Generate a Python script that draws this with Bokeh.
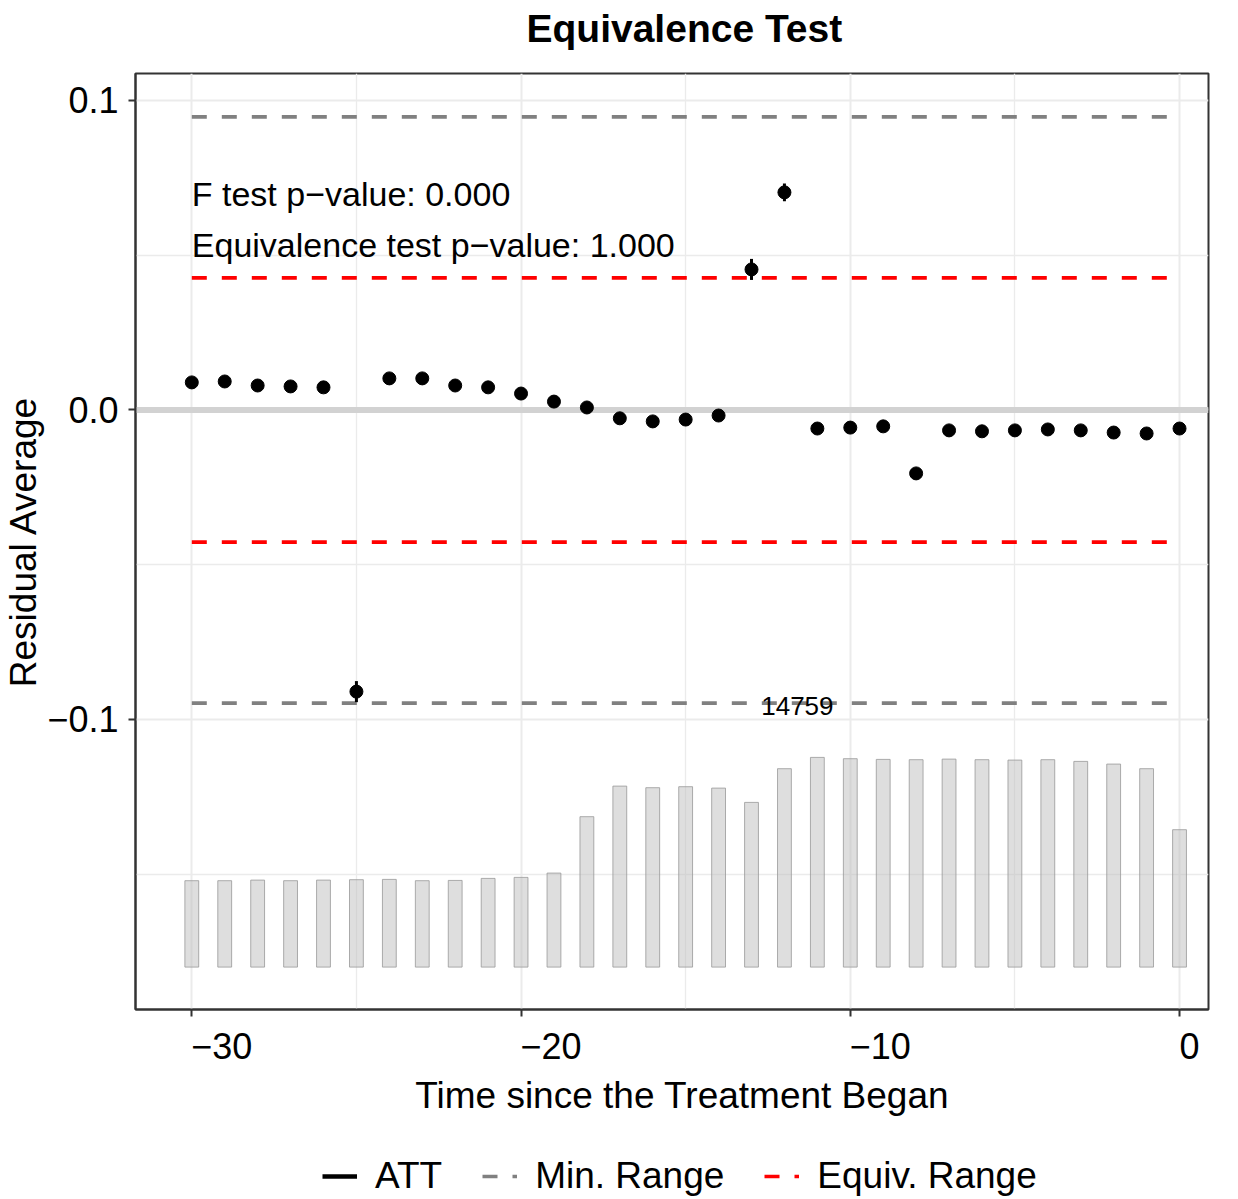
from bokeh.plotting import figure
from bokeh.layouts import column
from bokeh.models import Range1d, FixedTicker, Span, Legend, LegendItem, Label
from bokeh.embed import file_html
from bokeh.resources import INLINE

# ---------------- data ----------------
time = list(range(-30, 1))
att = [0.0089, 0.0092, 0.0079, 0.0076, 0.0073, -0.0910, 0.0102, 0.0102, 0.0079, 0.0073,
       0.0053, 0.0027, 0.0008, -0.0027, -0.0037, -0.0031, -0.0018, 0.0454, 0.0703, -0.0060,
       -0.0057, -0.0053, -0.0205, -0.0066, -0.0069, -0.0066, -0.0063, -0.0066, -0.0073, -0.0076,
       -0.0060]
ci_half = [0.0010, 0.0010, 0.0010, 0.0010, 0.0010, 0.0034, 0.0010, 0.0010, 0.0010, 0.0010,
           0.0010, 0.0010, 0.0010, 0.0010, 0.0010, 0.0010, 0.0010, 0.0034, 0.0029, 0.0010,
           0.0010, 0.0010, 0.0015, 0.0010, 0.0010, 0.0010, 0.0010, 0.0010, 0.0010, 0.0010,
           0.0010]
counts = [6081, 6081, 6123, 6081, 6123, 6151, 6172, 6081, 6100, 6243,
          6314, 6616, 10586, 12739, 12626, 12697, 12598, 11592, 13964, 14759,
          14667, 14618, 14597, 14639, 14597, 14569, 14597, 14477, 14288, 13964,
          9670]
min_range = 0.0947
equiv_range = 0.0427
f_test_p = 0.000
equiv_test_p = 1.000

x_ticks = [-30, -20, -10, 0]
x_minor = [-25, -15, -5]
y_ticks = [-0.1, 0.0, 0.1]
y_minor = [-0.15, -0.05, 0.05]

FONT = "Liberation Sans"
NBSP = "\u00a0"
FW, FH = 1073, 936
GRAY, RED = "#808080", "#FF0000"
DASH = "15 15"


def blank_strip(height):
    f = figure(width=1222, height=height, output_backend="svg", toolbar_location=None,
               x_range=Range1d(0, 1), y_range=Range1d(0, 1),
               x_axis_location=None, y_axis_location=None,
               min_border=0, outline_line_color=None,
               background_fill_color="white", border_fill_color="white")
    f.xgrid.visible = False
    f.ygrid.visible = False
    return f


# ---------------- title strip ----------------
tf = blank_strip(63)
tf.title.text = "Equivalence Test"
tf.title.align = "left"
tf.title.offset = 391
tf.title.standoff = 9
tf.title.text_font = FONT
tf.title.text_font_size = "39px"
tf.title.text_font_style = "bold"
tf.title.text_color = "black"

# ---------------- main figure ----------------
p = figure(frame_width=FW, frame_height=FH, output_backend="svg", toolbar_location=None,
           x_range=Range1d(-31.71, 0.88), y_range=Range1d(-0.1937, 0.1087),
           min_border_left=127, min_border_top=10, min_border_right=22, min_border_bottom=118,
           background_fill_color="white", border_fill_color="white")
p.title.text = ""

p.outline_line_color = "#333333"
p.outline_line_width = 2
p.outline_line_alpha = 1

xax, yax = p.below[0], p.left[0]
xax.ticker = FixedTicker(ticks=x_ticks, minor_ticks=x_minor)
yax.ticker = FixedTicker(ticks=y_ticks, minor_ticks=y_minor)

# grid
for g in (p.xgrid[0], p.ygrid[0]):
    g.grid_line_color = "#EBEBEB"
    g.grid_line_width = 2
    g.minor_grid_line_color = "#EBEBEB"
    g.minor_grid_line_width = 1.3


def xlab(t):
    s = str(t).replace("-", "\u2212")
    # labels sit to the right of their tick in the reference
    return NBSP * (6 if t != 0 else 2) + s


xax.major_label_overrides = {t: xlab(t) for t in x_ticks}
yax.major_label_overrides = {t: ("%.1f" % t).replace("-", "\u2212") for t in y_ticks}

for ax in (xax, yax):
    ax.axis_line_color = "#333333"
    ax.axis_line_width = 2
    ax.major_tick_line_color = "#333333"
    ax.major_tick_line_width = 2
    ax.major_tick_out = 7
    ax.major_tick_in = 0
    ax.minor_tick_line_color = None
    ax.major_label_text_font = FONT
    ax.major_label_text_font_size = "36px"
    ax.major_label_text_color = "black"
    ax.axis_label_text_font = FONT
    ax.axis_label_text_font_size = "37px"
    ax.axis_label_text_font_style = "normal"
    ax.axis_label_text_color = "black"

xax.axis_label = NBSP * 2 + "Time since the Treatment Began"
yax.axis_label = "Residual Average"
yax.major_label_standoff = 10
xax.major_label_standoff = 9
yax.axis_label_standoff = 0
xax.axis_label_standoff = 5

# zero line
p.add_layout(Span(location=0, dimension="width", line_color="#D2D2D2", line_width=6, level="underlay"))

# count bars (scaled into bottom band)
bar_base = -0.1800
bar_span = 0.06775
cmax = max(counts)
bar_tops = [bar_base + c / cmax * bar_span for c in counts]
p.vbar(x=time, width=0.42, bottom=bar_base, top=bar_tops,
       fill_color="#BEBEBE", fill_alpha=0.5, line_color="#999999", line_alpha=0.8, line_width=1)

imax = counts.index(cmax)
p.add_layout(Label(x=time[imax], y=-min_range, text=str(cmax), x_offset=-20, y_offset=-3,
                   text_align="center", text_baseline="middle",
                   text_font=FONT, text_font_size="26px", text_color="black"))

# range lines
x_ends = [time[0], time[-1]]
for yv in (min_range, -min_range):
    p.line(x_ends, [yv, yv], line_color=GRAY, line_width=3.7, line_dash=DASH)
for yv in (equiv_range, -equiv_range):
    p.line(x_ends, [yv, yv], line_color=RED, line_width=3.7, line_dash=DASH)

# ATT points with CIs
lo = [a - h for a, h in zip(att, ci_half)]
hi = [a + h for a, h in zip(att, ci_half)]
p.segment(x0=time, y0=lo, x1=time, y1=hi, line_color="black", line_width=3)
p.scatter(time, att, size=13, color="black")

# p-value annotations
p.add_layout(Label(x=time[0], y=0.0698, text="F test p\u2212value: %.3f" % f_test_p,
                   text_align="left", text_baseline="middle",
                   text_font=FONT, text_font_size="34px", text_color="black"))
p.add_layout(Label(x=time[0], y=0.0533, text="Equivalence test p\u2212value: %.3f" % equiv_test_p,
                   text_align="left", text_baseline="middle",
                   text_font=FONT, text_font_size="34px", text_color="black"))

# ---------------- legend strip below the plot ----------------
lg = blank_strip(70)
# legend key proxies, kept outside the strip's visible range
px, py = [-3, -2], [-3, -2]
r_att = lg.line(px, py, line_color="black", line_width=4.5)
r_min = lg.line(px, py, line_color=GRAY, line_width=3.7, line_dash=DASH)
r_eq = lg.line(px, py, line_color=RED, line_width=3.7, line_dash=DASH)

legend = Legend(items=[LegendItem(label="ATT", renderers=[r_att]),
                       LegendItem(label="Min. Range", renderers=[r_min]),
                       LegendItem(label="Equiv. Range", renderers=[r_eq])],
                orientation="horizontal", location=(187, 0),
                label_text_font=FONT, label_text_font_size="37px", label_text_color="black",
                glyph_width=35, glyph_height=20, label_standoff=18, spacing=40,
                border_line_color=None, background_fill_alpha=0, padding=0, margin=0)
lg.add_layout(legend)

layout = column(tf, p, lg, spacing=0)
open("out.html", "w").write(file_html(layout, INLINE))
